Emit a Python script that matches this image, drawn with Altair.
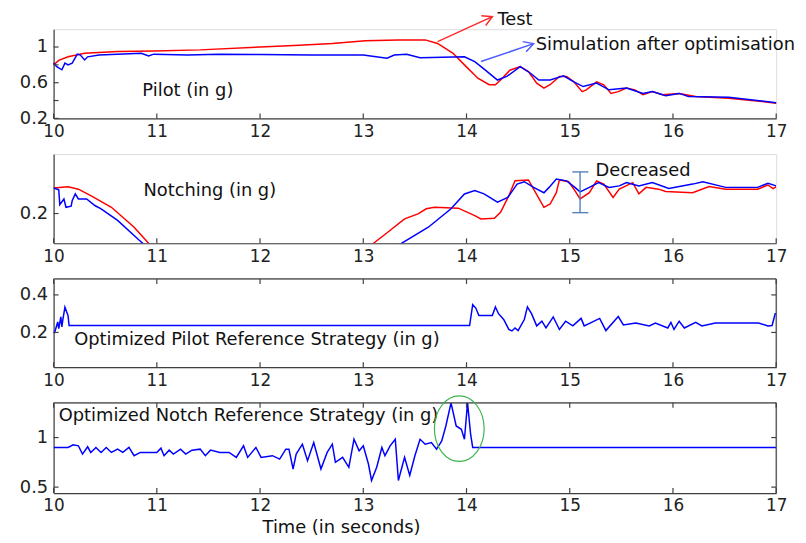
import altair as alt
import pandas as pd

# ---------------- data ----------------
x_ticks = [10, 11, 12, 13, 14, 15, 16, 17]

pilot_test_t = [10.0, 10.05, 10.14, 10.3, 10.62, 10.97, 11.42, 12.0, 12.38, 12.7, 13.02, 13.34, 13.6, 13.72, 13.87,
                13.98, 14.11, 14.22, 14.28, 14.33, 14.42, 14.52, 14.6, 14.68, 14.75, 14.81, 14.9, 14.97, 15.04, 15.12,
                15.16, 15.26, 15.33, 15.4, 15.47, 15.55, 15.63, 15.71, 15.8, 15.9, 16.06, 16.22, 16.54, 16.86, 17.0]
pilot_test_v = [0.80, 0.85, 0.89, 0.93, 0.95, 0.955, 0.968, 1.0, 1.02, 1.04, 1.07, 1.08, 1.08, 1.04, 0.93,
                0.80, 0.65, 0.577, 0.577, 0.63, 0.74, 0.78, 0.725, 0.595, 0.54, 0.577, 0.67, 0.67, 0.61, 0.50,
                0.52, 0.61, 0.577, 0.48, 0.50, 0.54, 0.52, 0.465, 0.50, 0.465, 0.48, 0.446, 0.427, 0.39, 0.37]

pilot_sim_t = [10.0, 10.03, 10.08, 10.11, 10.14, 10.18, 10.23, 10.26, 10.3, 10.33, 10.44, 10.85, 10.92, 10.97, 11.3,
               11.6, 12.0, 12.5, 13.0, 13.23, 13.3, 13.42, 13.55, 13.98, 14.08, 14.18, 14.3, 14.39, 14.52, 14.62,
               14.7, 14.81, 14.94, 15.04, 15.13, 15.26, 15.38, 15.55, 15.71, 15.8, 15.93, 16.06, 16.15, 16.54, 17.0]
pilot_sim_v = [0.82, 0.78, 0.745, 0.82, 0.80, 0.82, 0.92, 0.91, 0.855, 0.89, 0.91, 0.93, 0.90, 0.92, 0.91,
               0.92, 0.915, 0.91, 0.91, 0.875, 0.91, 0.92, 0.88, 0.89, 0.837, 0.744, 0.63, 0.67, 0.78, 0.706,
               0.63, 0.63, 0.677, 0.61, 0.557, 0.595, 0.52, 0.54, 0.48, 0.50, 0.454, 0.48, 0.446, 0.438, 0.376]

notch_test_t = [10.0, 10.14, 10.24, 10.36, 10.56, 10.78, 10.92, 11.2, 12.0, 12.9, 13.1, 13.24, 13.4, 13.53, 13.61,
                13.69, 13.92, 14.08, 14.14, 14.27, 14.33, 14.41, 14.47, 14.6, 14.65, 14.75, 14.81, 14.87, 14.9,
                14.99, 15.05, 15.1, 15.19, 15.26, 15.33, 15.42, 15.48, 15.61, 15.67, 15.74, 15.86, 15.93, 16.19,
                16.35, 16.51, 16.82, 16.92, 16.97, 17.0]
notch_test_v = [0.286, 0.29, 0.282, 0.26, 0.221, 0.154, 0.1, 0.0, -0.1, 0.02, 0.1, 0.138, 0.182, 0.199, 0.216,
                0.221, 0.218, 0.193, 0.182, 0.184, 0.204, 0.26, 0.31, 0.313, 0.282, 0.221, 0.232, 0.27, 0.313,
                0.307, 0.277, 0.249, 0.27, 0.31, 0.299, 0.254, 0.282, 0.304, 0.266, 0.288, 0.282, 0.274, 0.27,
                0.291, 0.282, 0.282, 0.296, 0.284, 0.29]

notch_sim_t = [10.0, 10.05, 10.06, 10.1, 10.12, 10.17, 10.18, 10.21, 10.24, 10.32, 10.4, 10.46, 10.62, 10.83,
               11.2, 12.2, 13.0, 13.37, 13.63, 13.85, 13.98, 14.08, 14.17, 14.3, 14.4, 14.49, 14.56, 14.65, 14.75,
               14.8, 14.87, 14.97, 15.05, 15.1, 15.19, 15.28, 15.38, 15.48, 15.55, 15.67, 15.8, 15.96, 16.19,
               16.29, 16.51, 16.82, 16.92, 17.0]
notch_sim_v = [0.286, 0.28, 0.23, 0.249, 0.221, 0.225, 0.243, 0.266, 0.249, 0.249, 0.227, 0.216, 0.177, 0.11,
               0.0, -0.1, 0.0, 0.1, 0.154, 0.216, 0.266, 0.277, 0.266, 0.238, 0.254, 0.299, 0.307, 0.288, 0.27,
               0.288, 0.316, 0.31, 0.288, 0.273, 0.288, 0.304, 0.288, 0.293, 0.304, 0.293, 0.304, 0.284, 0.299,
               0.307, 0.288, 0.288, 0.302, 0.293]

pref_t = [10.0, 10.01, 10.04, 10.05, 10.07, 10.08, 10.09, 10.11, 10.14, 10.15, 14.03, 14.06, 14.09, 14.12, 14.25,
          14.28, 14.31, 14.36, 14.41, 14.44, 14.47, 14.5, 14.56, 14.59, 14.63, 14.68, 14.73, 14.77, 14.84, 14.9,
          14.96, 15.03, 15.11, 15.14, 15.29, 15.35, 15.47, 15.52, 15.64, 15.77, 15.83, 15.95, 15.98, 16.01, 16.06,
          16.11, 16.22, 16.28, 16.41, 16.54, 16.71, 16.83, 16.92, 16.96, 16.99, 17.0]
pref_v = [0.2, 0.2, 0.256, 0.22, 0.283, 0.23, 0.27, 0.335, 0.29, 0.237, 0.237, 0.348, 0.33, 0.29, 0.29,
          0.336, 0.30, 0.269, 0.216, 0.208, 0.224, 0.21, 0.269, 0.336, 0.30, 0.235, 0.26, 0.224, 0.283, 0.216,
          0.26, 0.235, 0.275, 0.235, 0.275, 0.21, 0.285, 0.24, 0.25, 0.235, 0.25, 0.224, 0.254, 0.216, 0.26,
          0.224, 0.254, 0.235, 0.25, 0.25, 0.25, 0.25, 0.235, 0.237, 0.30, 0.30]

nref_t = [10.0, 10.14, 10.19, 10.24, 10.28, 10.33, 10.36, 10.41, 10.46, 10.51,
          10.56, 10.62, 10.67, 10.73, 10.78, 10.84, 11.0, 11.04, 11.07, 11.12,
          11.16, 11.23, 11.28, 11.34, 11.42, 11.47, 11.52, 11.61, 11.7, 11.77,
          11.84, 11.88, 11.96, 12.01, 12.12, 12.19, 12.25, 12.28, 12.32, 12.35,
          12.41, 12.46, 12.52, 12.59, 12.65, 12.70, 12.73, 12.8, 12.86, 12.91,
          12.96, 13.0, 13.05, 13.08, 13.13, 13.18, 13.21, 13.26, 13.31, 13.34,
          13.40, 13.45, 13.5, 13.55, 13.6, 13.66, 13.71, 13.76, 13.8, 13.85,
          13.9, 13.95, 13.98, 14.01, 14.04, 14.06, 17.0]
nref_v = [0.9, 0.9, 0.927, 0.917, 0.833, 0.907, 0.85, 0.9, 0.85, 0.9,
          0.85, 0.883, 0.85, 0.9, 0.817, 0.85, 0.85, 0.893, 0.817, 0.873,
          0.833, 0.883, 0.833, 0.873, 0.883, 0.817, 0.873, 0.85, 0.85, 0.8,
          0.917, 0.8, 0.9, 0.8, 0.817, 0.783, 0.883, 0.883, 0.683, 0.833,
          0.933, 0.767, 0.95, 0.683, 0.85, 0.933, 0.75, 0.8, 0.7, 0.983,
          0.867, 0.917, 0.733, 0.567, 0.7, 0.9, 0.817, 0.917, 0.983, 0.567,
          0.8, 0.617, 0.817, 0.983, 0.933, 0.95, 0.883, 0.967, 1.117, 1.35,
          1.117, 1.083, 0.983, 1.35, 1.033, 0.9, 0.9]

# annotations (label, t, v)
p1_labels = [("Pilot (in g)", 10.86, 0.51), ("Test", 14.30, 1.30), ("Simulation after optimisation", 14.67, 1.027)]
p2_labels = [("Notching (in g)", 10.87, 0.277), ("Decreased", 15.25, 0.343)]
p3_labels = [("Optimized Pilot Reference Strategy (in g)", 10.2, 0.158)]
p4_labels = [("Optimized Notch Reference Strategy (in g)", 10.05, 1.22)]
# arrows: start t, start v, tip t, tip v, colour, angle
arrows = [(13.72, 1.06, 14.25, 1.34, "#ff2a2a", 335.6), (14.14, 0.837, 14.65, 1.038, "#4d5cff", 341.6)]
decreased_bar = (15.10, 0.203, 0.34, 15.025, 15.18)
ellipse_centre = (13.93, 1.09)

# ---------------- styling ----------------
W = 729
AX = "#404040"
FONT_T = "DejaVu Sans"
FONT_A = "DejaVu Sans"
RED = "#ff0000"
BLUE = "#0000ff"
xs = alt.Scale(domain=[10, 17], nice=False, zero=False)


def df(t, v):
    return pd.DataFrame({"t": t, "v": v})


def panel(h, ydom, yticks, lines, extras, box=False, xtitle=None, clip=False):
    ys = alt.Scale(domain=ydom, nice=False, zero=False)
    common_x = dict(values=x_ticks, format="d", tickSize=0, labelPadding=5, grid=False, labelFlush=False,
                    domainColor=AX, domainWidth=1.2, labelFont=FONT_T, labelFontSize=17, labelColor="#222")
    if xtitle:
        xaxis = alt.Axis(title=xtitle, titleFont=FONT_A, titleFontSize=18, titleFontWeight="normal",
                         titleColor="#111", titleX=290, titleY=35, titleAlign="center",
                         titleBaseline="middle", **common_x)
    else:
        xaxis = alt.Axis(title=None, **common_x)
    yaxis = alt.Axis(values=yticks, format=".1~f", tickSize=0, labelPadding=6, grid=False, labelFlush=False,
                     domainColor=AX, domainWidth=1.2, labelFont=FONT_T, labelFontSize=18,
                     labelColor="#222", title=None)
    layers = []
    for i, (d, col) in enumerate(lines):
        enc_x = alt.X("t:Q", scale=xs, axis=xaxis) if i == 0 else alt.X("t:Q", scale=xs)
        enc_y = alt.Y("v:Q", scale=ys, axis=yaxis) if i == 0 else alt.Y("v:Q", scale=ys)
        layers.append(alt.Chart(d).mark_line(color=col, strokeWidth=1.5, clip=clip).encode(x=enc_x, y=enc_y))
    X = alt.X("t:Q", scale=xs)
    Y = alt.Y("v:Q", scale=ys)
    # inward ticks
    xt = pd.DataFrame({"t": x_ticks})
    yt = pd.DataFrame({"v": yticks})
    layers.append(alt.Chart(xt).mark_rule(color=AX, strokeWidth=1.2).encode(x=X, y=alt.value(h), y2=alt.value(h - 5)))
    layers.append(alt.Chart(yt).mark_rule(color=AX, strokeWidth=1.2).encode(y=Y, x=alt.value(0), x2=alt.value(5)))
    if box:
        one = pd.DataFrame({"a": [0]})
        layers.append(alt.Chart(xt).mark_rule(color=AX, strokeWidth=1.2).encode(x=X, y=alt.value(0), y2=alt.value(5)))
        layers.append(alt.Chart(yt).mark_rule(color=AX, strokeWidth=1.2).encode(y=Y, x=alt.value(W), x2=alt.value(W - 5)))
        layers.append(alt.Chart(one).mark_rule(color=AX, strokeWidth=1.2).encode(x=alt.value(0), x2=alt.value(W), y=alt.value(0)))
        layers.append(alt.Chart(one).mark_rule(color=AX, strokeWidth=1.2).encode(x=alt.value(W), y=alt.value(0), y2=alt.value(h)))
    for make in extras:
        layers.extend(make(X, Y, ys))
    return alt.layer(*layers).properties(width=W, height=h)


def text_layer(labels):
    def make(X, Y, ys):
        d = pd.DataFrame(labels, columns=["label", "t", "v"])
        return [alt.Chart(d).mark_text(align="left", baseline="middle", font=FONT_A, fontSize=18,
                                       color="#111").encode(x=X, y=Y, text="label:N")]
    return make


def arrow_layer(X, Y, ys):
    d = pd.DataFrame(arrows, columns=["t", "v", "t2", "v2", "c", "ang"])
    shaft = alt.Chart(d).mark_rule(strokeWidth=1.5).encode(
        x=X, y=Y, x2="t2:Q", y2="v2:Q", color=alt.Color("c:N", scale=None))
    head = alt.Chart(d).mark_point(shape="M-1,-0.55 L0,0 L-1,0.55", filled=False, size=380, strokeWidth=1.5,
                                   opacity=1).encode(
        x=alt.X("t2:Q", scale=xs), y=alt.Y("v2:Q", scale=ys),
        color=alt.Color("c:N", scale=None), angle=alt.Angle("ang:Q", scale=None))
    return [shaft, head]


def bar_layer(X, Y, ys):
    t0, lo, hi, c1, c2 = decreased_bar
    d = pd.DataFrame({"t": [t0], "v": [lo], "v2": [hi]})
    caps = pd.DataFrame({"t": [c1, c1], "t2": [c2, c2], "v": [lo, hi]})
    return [alt.Chart(d).mark_rule(color="#4f81bd", strokeWidth=1.4).encode(x=X, y=Y, y2="v2:Q"),
            alt.Chart(caps).mark_rule(color="#4f81bd", strokeWidth=1.4).encode(x=X, x2="t2:Q", y=Y)]


def ellipse_layer(X, Y, ys):
    d = pd.DataFrame({"t": [ellipse_centre[0]], "v": [ellipse_centre[1]]})
    return [alt.Chart(d).mark_point(shape="M0,-1 A0.76,1 0 1,1 0,1 A0.76,1 0 1,1 0,-1 Z", filled=False,
                                    size=4356, color="#3cb44b", strokeWidth=1.2, opacity=1).encode(x=X, y=Y)]


p1 = panel(90, [0.2, 1.2], [0.2, 0.4, 0.6, 0.8, 1.0],
           [(df(pilot_test_t, pilot_test_v), RED), (df(pilot_sim_t, pilot_sim_v), BLUE)],
           [text_layer(p1_labels), arrow_layer])
p2 = panel(90, [0.1, 0.4], [0.2],
           [(df(notch_test_t, notch_test_v), RED), (df(notch_sim_t, notch_sim_v), BLUE)],
           [text_layer(p2_labels), bar_layer], clip=True)
p3 = panel(89, [0.015, 0.485], [0.2, 0.4], [(df(pref_t, pref_v), BLUE)],
           [text_layer(p3_labels)], box=True)
p4 = panel(91, [0.44, 1.35], [0.5, 1.0], [(df(nref_t, nref_v), BLUE)],
           [text_layer(p4_labels), ellipse_layer], box=True, xtitle="Time (in seconds)", clip=True)

chart = alt.vconcat(p1, p2, p3, p4, spacing=36, bounds="flush").properties(
    padding={"left": 10, "top": 0, "right": 2, "bottom": 2}
).configure_view(stroke=None).configure(background="white")

chart.save("out.html", embed_options={"renderer": "svg", "actions": False})
